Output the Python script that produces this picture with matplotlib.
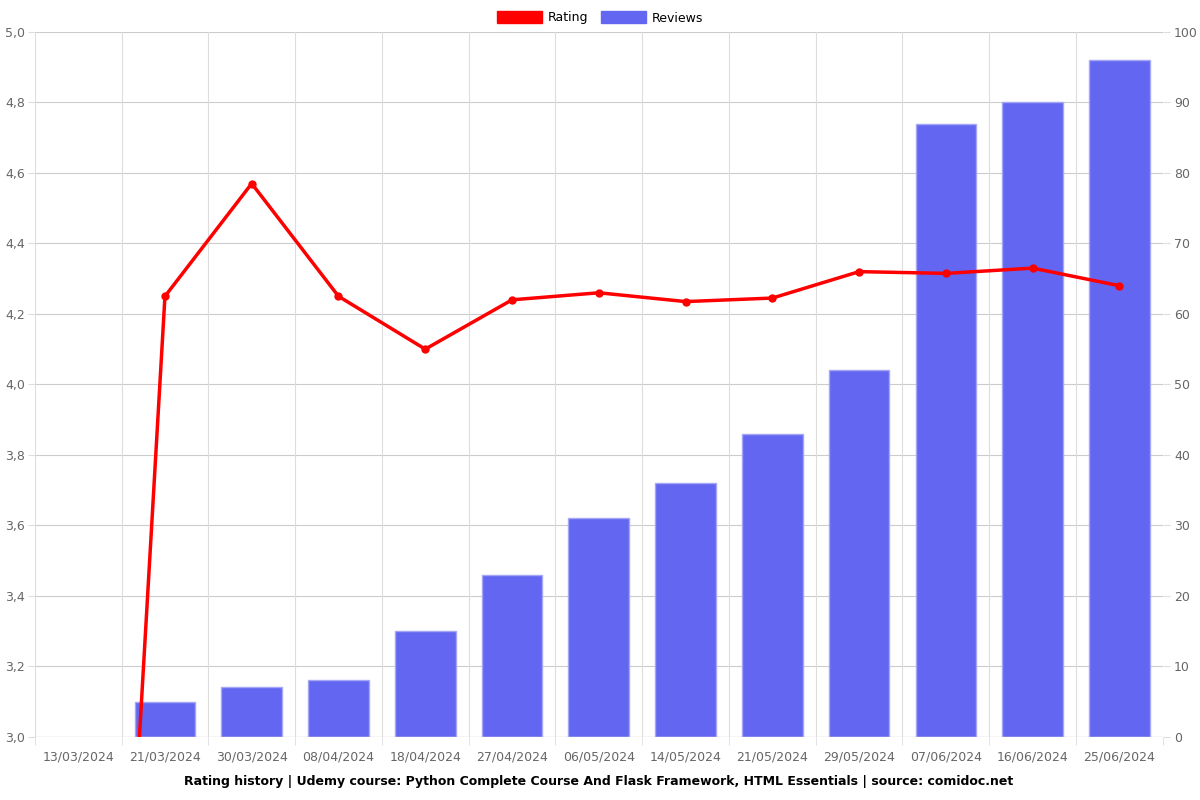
import numpy as np
import matplotlib.pyplot as plt
from matplotlib.patches import Patch

# data
dates = ["13/03/2024", "21/03/2024", "30/03/2024", "08/04/2024", "18/04/2024",
         "27/04/2024", "06/05/2024", "14/05/2024", "21/05/2024", "29/05/2024",
         "07/06/2024", "16/06/2024", "25/06/2024"]
reviews = [0, 5, 7, 8, 15, 23, 31, 36, 43, 52, 87, 90, 96]
rating = [0, 4.25, 4.57, 4.25, 4.10, 4.24, 4.26, 4.235, 4.245, 4.32, 4.315, 4.33, 4.28]

grid_col = "#dddddd"
text_col = "#666666"

fig = plt.figure(figsize=(12, 8), dpi=100)
ax = fig.add_axes([0.029, 0.079, 0.94, 0.881])
ax2 = ax.twinx()

x = np.arange(len(dates))

# bars on right axis, drawn behind the rating line
bars = ax2.bar(x, reviews, width=0.7, color="#6366f1", edgecolor="#a5a7f5", linewidth=1, zorder=2)
for b, r in zip(bars, reviews):
    if r == 0:
        b.set_visible(False)
ax2.set_ylim(0, 100)
ax2.set_yticks(np.arange(0, 101, 10))

ax.plot(x, rating, color="#ff0000", linewidth=2.5, marker="o", markersize=5, zorder=5)
ax.set_ylim(3.0, 5.0)
ax.set_yticks(np.arange(3.0, 5.01, 0.2))
ax.set_yticklabels([("%.1f" % v).replace(".", ",") for v in np.arange(3.0, 5.01, 0.2)])

ax.set_zorder(ax2.get_zorder() + 1)
ax.patch.set_visible(False)
ax2.patch.set_visible(True)
ax2.patch.set_facecolor("white")

ax.set_xlim(-0.5, len(dates) - 0.5)
ax.set_xticks(x)
ax.set_xticklabels(dates)
ax.set_xticks(np.arange(-0.5, len(dates), 1), minor=True)
ax.tick_params(axis="x", which="major", length=0, pad=10, colors=text_col, labelsize=9)
ax.tick_params(axis="x", which="minor", length=6, color=grid_col)
ax.tick_params(axis="y", length=5, pad=2, color=grid_col, colors=text_col, labelsize=9)
ax2.tick_params(axis="y", length=5, pad=3, color=grid_col, colors=text_col, labelsize=9)

# grid lines go on the back axes so they sit behind the bars
for v in np.arange(3.2, 5.01, 0.2):
    ax2.axhline((v - 3.0) / 2.0 * 100, color="#cccccc", linewidth=0.8, zorder=0)
for b in np.arange(-0.5, len(dates), 1):
    ax2.axvline(b, color=grid_col, linewidth=0.8, zorder=0)
ax2.axhline(0, color="#cccccc", linewidth=1, zorder=3)

for a in (ax, ax2):
    for s in a.spines.values():
        s.set_visible(False)

ax.set_xlabel("Rating history | Udemy course: Python Complete Course And Flask Framework, HTML Essentials | source: comidoc.net",
              fontsize=9, fontweight="bold", labelpad=8)

handles = [Patch(color="#ff0000", label="Rating"), Patch(color="#6366f1", label="Reviews")]
fig.legend(handles=handles, loc="upper center", bbox_to_anchor=(0.5, 1.0), ncol=2,
           frameon=False, fontsize=9, handlelength=3.6, handleheight=1.1, columnspacing=1.0,
           handletextpad=0.5)

fig.savefig("out.png")
